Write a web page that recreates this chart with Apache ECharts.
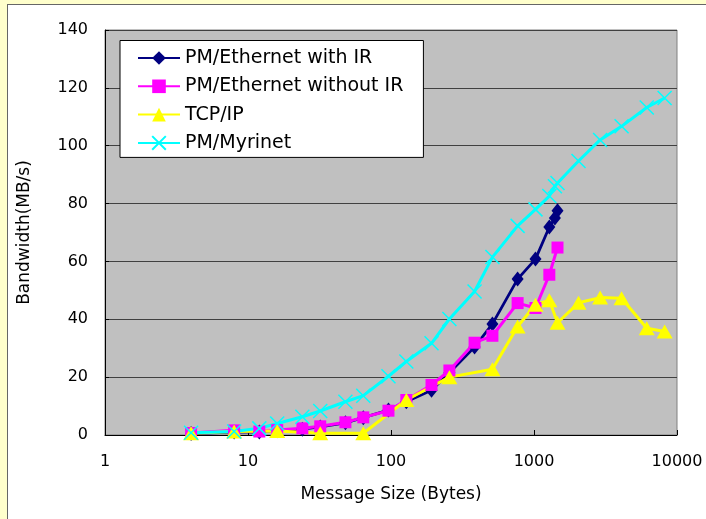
<!DOCTYPE html>
<html>
<head>
<meta charset="utf-8">
<script src="https://cdn.jsdelivr.net/npm/echarts@6/dist/echarts.min.js"></script>
<style>
html,body{margin:0;padding:0;width:706px;height:519px;overflow:hidden;background:#ffffcc;}
#panel{position:absolute;left:7px;top:4px;width:699px;height:515px;background:#ffffff;border-left:1px solid #666;border-top:1px solid #666;box-sizing:border-box;}
#main{position:absolute;left:0;top:0;width:706px;height:519px;}
</style>
</head>
<body>
<div id="panel"></div>
<div id="main"></div>
<script>
// Data
var seriesNames = ['PM/Ethernet with IR', 'PM/Ethernet without IR', 'TCP/IP', 'PM/Myrinet'];

var ethIrSizes = [4, 8, 12, 16, 24, 32, 48, 64, 96, 128, 192, 256, 384, 512, 768, 1024, 1280, 1400, 1460];
var ethIrValues = [0.5, 1.0, 1.0, 1.5, 2.0, 2.8, 4.2, 6.0, 8.6, 11.5, 15.5, 21.5, 30.4, 38.4, 53.9, 60.8, 71.9, 75.0, 77.5];

var ethNoIrSizes = [4, 8, 12, 16, 24, 32, 48, 64, 96, 128, 192, 256, 384, 512, 768, 1024, 1280, 1460];
var ethNoIrValues = [0.7, 1.6, 1.2, 1.7, 2.3, 3.0, 4.4, 6.1, 8.4, 12.1, 17.3, 22.3, 31.9, 34.3, 45.6, 43.9, 55.4, 64.8];

var tcpSizes = [4, 8, 16, 32, 64, 128, 256, 512, 768, 1024, 1280, 1460, 2048, 2900, 4096, 6144, 8192];
var tcpValues = [0.6, 1.2, 1.4, 0.6, 0.6, 12.1, 20.0, 22.7, 37.5, 45.0, 46.6, 38.8, 45.7, 47.5, 47.3, 36.9, 35.8];

var myriSizes = [4, 8, 12, 16, 24, 32, 48, 64, 96, 128, 192, 256, 384, 512, 768, 1024, 1280, 1400, 1460, 2048, 2900, 4096, 6144, 8192];
var myriValues = [0.8, 1.2, 2.3, 4.0, 6.3, 8.3, 11.5, 13.6, 20.3, 25.4, 31.7, 40.1, 49.6, 61.5, 72.3, 78.0, 82.6, 86.0, 87.1, 94.7, 102.0, 106.7, 113.2, 116.5];

var yTicks = [0, 20, 40, 60, 80, 100, 120, 140];
var xTicks = [1, 10, 100, 1000, 10000];

function pairs(xs, ys) {
  return xs.map(function (x, i) { return [x, ys[i]]; });
}

var chart = echarts.init(document.getElementById('main'), null, {renderer: 'canvas'});
var FONT = 'DejaVu Sans';

var option = {
  animation: false,
  backgroundColor: 'transparent',
  textStyle: {fontFamily: FONT},
  grid: {left: 105, right: 29, top: 30, bottom: 84, show: true, backgroundColor: '#c0c0c0', borderColor: '#808080', borderWidth: 1},
  legend: {
    left: 120, top: 40.5,
    orient: 'vertical',
    backgroundColor: '#ffffff',
    borderColor: '#000000',
    borderWidth: 1,
    borderRadius: 0,
    padding: [8, 20, 5, 17],
    itemWidth: 42,
    itemHeight: 17,
    itemGap: 9.3,
    textStyle: {fontFamily: FONT, fontSize: 19, color: '#000000', lineHeight: 18},
    data: seriesNames
  },
  xAxis: {
    type: 'log',
    logBase: 10,
    min: xTicks[0],
    max: xTicks[xTicks.length - 1],
    name: 'Message Size (Bytes)',
    nameLocation: 'middle',
    nameGap: 51,
    nameTextStyle: {fontFamily: FONT, fontSize: 17, color: '#000000'},
    axisLine: {onZero: false, lineStyle: {color: '#000000', width: 1}},
    axisTick: {show: true, inside: true, length: 5, lineStyle: {color: '#000000'}},
    minorTick: {show: false},
    axisLabel: {margin: 19, fontFamily: FONT, fontSize: 16, color: '#000000', formatter: function (v) { return String(Math.round(v)); }},
    splitLine: {show: false}
  },
  yAxis: {
    type: 'value',
    min: yTicks[0],
    max: yTicks[yTicks.length - 1],
    interval: 20,
    name: 'Bandwidth(MB/s)',
    nameLocation: 'middle',
    nameGap: 72,
    nameTextStyle: {fontFamily: FONT, fontSize: 17, color: '#000000'},
    axisLine: {show: true, lineStyle: {color: '#000000', width: 1}},
    axisTick: {show: true, inside: true, length: 4, lineStyle: {color: '#000000'}},
    axisLabel: {margin: 17, fontFamily: FONT, fontSize: 16, color: '#000000'},
    splitLine: {show: true, lineStyle: {color: '#404040', width: 1}}
  },
  series: [
    {
      name: seriesNames[0], type: 'line', data: pairs(ethIrSizes, ethIrValues),
      symbol: 'diamond', symbolSize: [12, 15],
      lineStyle: {color: '#000080', width: 2.8},
      itemStyle: {color: '#000080'}
    },
    {
      name: seriesNames[1], type: 'line', data: pairs(ethNoIrSizes, ethNoIrValues),
      symbol: 'rect', symbolSize: 12,
      lineStyle: {color: '#ff00ff', width: 3},
      itemStyle: {color: '#ff00ff'}
    },
    {
      name: seriesNames[2], type: 'line', data: pairs(tcpSizes, tcpValues),
      symbol: 'triangle', symbolSize: [16, 14],
      lineStyle: {color: '#ffff00', width: 3},
      itemStyle: {color: '#ffff00'}
    },
    {
      name: seriesNames[3], type: 'line', data: pairs(myriSizes, myriValues),
      symbol: 'path://M0,0L10,10M10,0L0,10', symbolSize: 14,
      lineStyle: {color: '#00ffff', width: 3},
      itemStyle: {color: '#00ffff', borderColor: '#00ffff', borderWidth: 1.5}
    }
  ]
};
chart.setOption(option);
</script>
</body>
</html>
